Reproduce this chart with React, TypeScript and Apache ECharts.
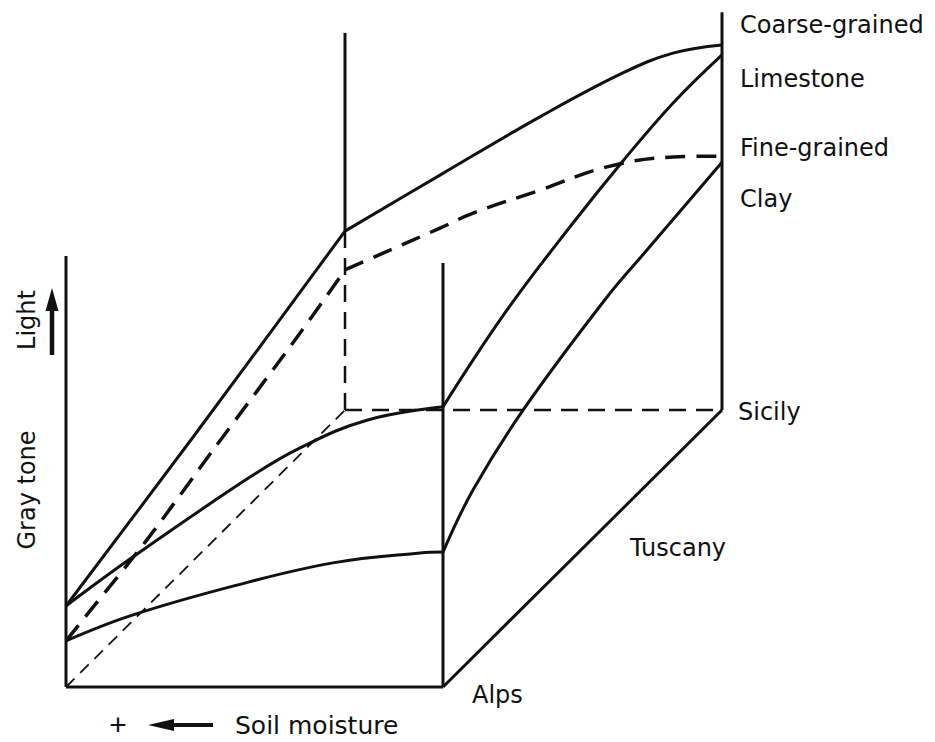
import React, { useEffect, useRef } from "react";
import * as echarts from "echarts";

// ---- Data (soil moisture 0..100, gray tone 0..100, region depth Alps=0 .. Sicily=1) ----
// Alps face (front): gray tone vs soil moisture
const alpsLimestoneMoisture = [100, 82.2, 51.2, 37.9, 20.2, 0];
const alpsLimestoneTone = [18.8, 30.2, 48.7, 55.5, 61.9, 65.0];
const alpsClayMoisture = [100, 83.0, 55.7, 29.2, 6.1, 0];
const alpsClayTone = [10.7, 16.5, 23.4, 28.8, 31.1, 31.3];

// Sicily face (back): gray tone vs soil moisture
const sicilyCoarseMoisture = [100, 74.8, 48.3, 26.3, 13.0, 0];
const sicilyCoarseTone = [41.5, 54.5, 68.0, 78.2, 82.8, 84.7];
const sicilyFineMoisture = [100, 89.9, 74.8, 66.0, 48.3, 30.5, 13.0, 0];
const sicilyFineTone = [32.5, 36.4, 42.2, 45.7, 51.0, 56.4, 58.7, 58.9];

// Wet edge (moisture 100): gray tone vs region depth
const wetCoarseDepth = [0, 0.455, 1];
const wetCoarseTone = [18.8, 28.7, 41.5];
const wetFineDepth = [0, 0.097, 0.29, 0.527, 0.839, 1];
const wetFineTone = [10.7, 12.3, 15.5, 21.1, 28.2, 32.5];

// Dry edge (moisture 0): gray tone vs region depth
const dryLimestoneDepth = [0, 0.229, 0.466, 0.645, 0.824, 1];
const dryLimestoneTone = [65.0, 72.7, 77.7, 80.6, 82.5, 82.4];
const dryClayDepth = [0, 0.1075, 0.287, 0.588, 0.731, 1];
const dryClayTone = [31.3, 38.8, 45.8, 52.7, 54.4, 57.5];

// Box frame heights (gray tone) of the four vertical edges
const frameTops = { alpsWet: 100, alpsDry: 98.4, sicilyWet: 87.5, sicilyDry: 92.3 };

const labelsRight = ["Coarse-grained", "Limestone", "Fine-grained", "Clay"];
const regionLabels = ["Alps", "Tuscany", "Sicily"];

// ---- oblique projection (layout) ----
const PXU = 3.77; // px per moisture unit
const PYU = 4.31; // px per gray-tone unit
const DU = 279 / PXU;
const DV = 277 / PYU;
const proj = (m: number, g: number, d: number) => [100 - m + d * DU, g + d * DV];
const face = (ms: number[], gs: number[], d: number) => ms.map((m, i) => proj(m, gs[i], d));
const edge = (ds: number[], gs: number[], m: number) => ds.map((d, i) => proj(m, gs[i], d));

const INK = "#111";

function lineSeries(data: number[][], opt: { width?: number; dash?: any; smooth?: number } = {}) {
  return {
    type: "line",
    data,
    smooth: opt.smooth ?? 0,
    symbol: "none",
    showSymbol: false,
    clip: false,
    silent: true,
    lineStyle: { color: INK, width: opt.width ?? 3, type: opt.dash ?? "solid", cap: "butt", join: "round" },
  };
}

export default function App() {
  const ref = useRef<HTMLDivElement>(null);
  useEffect(() => {
    if (!ref.current) return;
    const chart = echarts.init(ref.current, undefined, { renderer: "svg" });
    const heavyDash = [20, 11];
    const edgeDash = [17, 10];
    const thinDash = [12, 8];
    const series = [
      // frame
      lineSeries([proj(100, 0, 0), proj(100, frameTops.alpsWet, 0)], { width: 3 }),
      lineSeries([proj(100, 0, 0), proj(0, 0, 0)], { width: 3 }),
      lineSeries([proj(0, 0, 0), proj(0, frameTops.alpsDry, 0)], { width: 3 }),
      lineSeries([proj(0, 0, 0), proj(0, 0, 1)], { width: 3 }),
      lineSeries([proj(0, 0, 1), proj(0, frameTops.sicilyDry, 1)], { width: 3 }),
      lineSeries([proj(100, sicilyCoarseTone[0], 1), proj(100, frameTops.sicilyWet, 1)], { width: 3 }),
      lineSeries([proj(100, 0, 1), proj(100, sicilyCoarseTone[0], 1)], { width: 2.5, dash: edgeDash }),
      lineSeries([proj(100, 0, 1), proj(0, 0, 1)], { width: 2.5, dash: edgeDash }),
      lineSeries([proj(100, 0, 0), proj(100, 0, 1)], { width: 1.8, dash: thinDash }),
      // Alps face
      lineSeries(face(alpsLimestoneMoisture, alpsLimestoneTone, 0), { smooth: 0.4 }),
      lineSeries(face(alpsClayMoisture, alpsClayTone, 0), { smooth: 0.4 }),
      // Sicily face
      lineSeries(face(sicilyCoarseMoisture, sicilyCoarseTone, 1), { smooth: 0.4 }),
      lineSeries(face(sicilyFineMoisture, sicilyFineTone, 1), { smooth: 0.4, width: 3.5, dash: heavyDash }),
      // wet edge
      lineSeries(edge(wetCoarseDepth, wetCoarseTone, 100), { smooth: 0.3 }),
      lineSeries(edge(wetFineDepth, wetFineTone, 100), { smooth: 0.3, width: 3.5, dash: heavyDash }),
      // dry edge
      lineSeries(edge(dryLimestoneDepth, dryLimestoneTone, 0), { smooth: 0.4 }),
      lineSeries(edge(dryClayDepth, dryClayTone, 0), { smooth: 0.4 }),
    ];

    const font = '24px "DejaVu Sans"';
    const txt = (text: string, x: number, y: number, extra: any = {}) => ({
      type: "text",
      x,
      y,
      rotation: extra.rotation ?? 0,
      silent: true,
      style: {
        text,
        font: extra.font ?? font,
        fill: INK,
        align: extra.align ?? "left",
        verticalAlign: "middle",
        textAlign: extra.align ?? "left",
        textVerticalAlign: "middle",
      },
    });

    const W = 935;
    const H = 742;
    const x0 = 66; // px of moisture 100 on the Alps face
    const y0 = 687; // px of gray tone 0 on the Alps face

    chart.setOption({
      animation: false,
      backgroundColor: "#fff",
      grid: { left: 0, right: 0, top: 0, bottom: 0 },
      xAxis: { type: "value", min: -x0 / PXU, max: (W - x0) / PXU, show: false },
      yAxis: { type: "value", min: -(H - y0) / PYU, max: y0 / PYU, show: false },
      series,
      graphic: [
        txt(labelsRight[0], 740, 25),
        txt(labelsRight[1], 740, 79),
        txt(labelsRight[2], 740, 148),
        txt(labelsRight[3], 740, 199),
        txt(regionLabels[2], 738, 412),
        txt(regionLabels[1], 630, 548),
        txt(regionLabels[0], 472, 695),
        txt("Soil moisture", 235, 725, { font: '25px "DejaVu Sans"' }),
        txt("+", 118, 724, { align: "center", font: '30px "Liberation Sans"' }),
        txt("Gray tone", 27, 490, { align: "center", rotation: Math.PI / 2 }),
        txt("Light", 27, 320, { align: "center", rotation: Math.PI / 2 }),
        // Soil moisture arrow
        { type: "line", silent: true, shape: { x1: 170, y1: 725, x2: 213, y2: 725 }, style: { stroke: INK, lineWidth: 4 } },
        { type: "polygon", silent: true, shape: { points: [[148, 725], [174, 719], [174, 731]] }, style: { fill: INK } },
        // Light arrow
        { type: "line", silent: true, shape: { x1: 52, y1: 355, x2: 52, y2: 306 }, style: { stroke: INK, lineWidth: 4.5 } },
        { type: "polygon", silent: true, shape: { points: [[52, 288], [45.5, 311], [58.5, 311]] }, style: { fill: INK } },
      ],
    });
    return () => chart.dispose();
  }, []);
  return (
    <div
      ref={ref}
      style={{ position: "absolute", left: 0, top: 0, width: 935, height: 742, background: "#fff" }}
    />
  );
}
